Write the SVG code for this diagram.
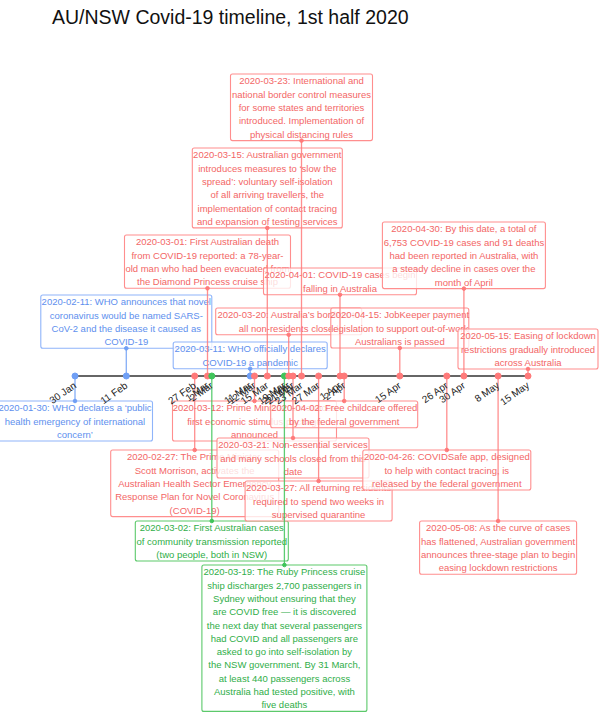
<svg xmlns="http://www.w3.org/2000/svg" width="602" height="724" viewBox="0 0 602 724">
<style>
text{font-family:"Liberation Sans",Arial,sans-serif}
.title{font-size:19.5px;fill:#111}
.box rect{fill:#fff;fill-opacity:0.78;stroke-width:1.1}
.box text{font-size:9.5px;text-anchor:middle}
.r rect{stroke:#ff8e8e}.r text{fill:#f36666}
.b rect{stroke:#8fb4fa}.b text{fill:#5e8fee}
.g rect{stroke:#5cc96b}.g text{fill:#2fae48}
.cr{stroke:#ff7a7a;fill:#ff7a7a}
.cb{stroke:#6f9ff5;fill:#6f9ff5}
.cg{stroke:#3fc45a;fill:#3fc45a}
#connectors line{stroke-width:1.3;stroke-opacity:0.85}
.tick{font-size:10px;fill:#222;text-anchor:end}
</style>
<rect width="602" height="724" fill="#fff"/>
<text class="title" x="52" y="24">AU/NSW Covid-19 timeline, 1st half 2020</text>

<g id="n0130" class="box b"><rect x="-2.5" y="401" width="155" height="40" rx="2"/>
<text x="75" y="411.3">2020-01-30: WHO declares a ‘public</text><text x="75" y="424.6">health emergency of international</text><text x="75" y="437.9">concern’</text></g>
<g id="n0211" class="box b"><rect x="40.8" y="295" width="171" height="53.3" rx="2"/>
<text x="126.3" y="305.3">2020-02-11: WHO announces that novel</text><text x="126.3" y="318.6">coronavirus would be named SARS-</text><text x="126.3" y="331.9">CoV-2 and the disease it caused as</text><text x="126.3" y="345.2">COVID-19</text></g>
<g id="n0227" class="box r"><rect x="110.7" y="450" width="168" height="66.6" rx="2"/>
<text x="194.7" y="460.3">2020-02-27: The Prime Minister,</text><text x="194.7" y="473.6">Scott Morrison, activates the</text><text x="194.7" y="486.9">Australian Health Sector Emergency</text><text x="194.7" y="500.2">Response Plan for Novel Coronavirus</text><text x="194.7" y="513.5">(COVID-19)</text></g>
<g id="n0301" class="box r"><rect x="124.5" y="235" width="166" height="53.3" rx="2"/>
<text x="207.5" y="245.3">2020-03-01: First Australian death</text><text x="207.5" y="258.6">from COVID-19 reported: a 78-year-</text><text x="207.5" y="271.9">old man who had been evacuated from</text><text x="207.5" y="285.2">the Diamond Princess cruise ship</text></g>
<g id="n0302" class="box g"><rect x="135.3" y="521" width="153" height="40" rx="2"/>
<text x="211.8" y="531.3">2020-03-02: First Australian cases</text><text x="211.8" y="544.6">of community transmission reported</text><text x="211.8" y="557.9">(two people, both in NSW)</text></g>
<g id="n0311" class="box b"><rect x="173.2" y="342" width="154" height="26.7" rx="2"/>
<text x="250.2" y="352.3">2020-03-11: WHO officially declares</text><text x="250.2" y="365.6">COVID-19 a pandemic</text></g>
<g id="n0312" class="box r"><rect x="172.5" y="401" width="164" height="40" rx="2"/>
<text x="254.5" y="411.3">2020-03-12: Prime Minister announces</text><text x="254.5" y="424.6">first economic stimulus package</text><text x="254.5" y="437.9">announced</text></g>
<g id="n0315" class="box r"><rect x="192.3" y="148" width="150" height="79.9" rx="2"/>
<text x="267.3" y="158.3">2020-03-15: Australian government</text><text x="267.3" y="171.6">introduces measures to ‘slow the</text><text x="267.3" y="184.9">spread’: voluntary self-isolation</text><text x="267.3" y="198.2">of all arriving travellers, the</text><text x="267.3" y="211.5">implementation of contact tracing</text><text x="267.3" y="224.8">and expansion of testing services</text></g>
<g id="n0319" class="box g"><rect x="201.9" y="565" width="165" height="146.4" rx="2"/>
<text x="284.4" y="575.3">2020-03-19: The Ruby Princess cruise</text><text x="284.4" y="588.6">ship discharges 2,700 passengers in</text><text x="284.4" y="601.9">Sydney without ensuring that they</text><text x="284.4" y="615.2">are COVID free — it is discovered</text><text x="284.4" y="628.5">the next day that several passengers</text><text x="284.4" y="641.8">had COVID and all passengers are</text><text x="284.4" y="655.1">asked to go into self-isolation by</text><text x="284.4" y="668.4">the NSW government. By 31 March,</text><text x="284.4" y="681.7">at least 440 passengers across</text><text x="284.4" y="695">Australia had tested positive, with</text><text x="284.4" y="708.3">five deaths</text></g>
<g id="n0320" class="box r"><rect x="215.7" y="308" width="146" height="26.7" rx="2"/>
<text x="288.7" y="318.3">2020-03-20: Australia’s borders to</text><text x="288.7" y="331.6">all non-residents closed</text></g>
<g id="n0321" class="box r"><rect x="217" y="438" width="152" height="40" rx="2"/>
<text x="293" y="448.3">2020-03-21: Non-essential services</text><text x="293" y="461.6">and many schools closed from this</text><text x="293" y="474.9">date</text></g>
<g id="n0323" class="box r"><rect x="230.5" y="74" width="142" height="66.6" rx="2"/>
<text x="301.5" y="84.3">2020-03-23: International and</text><text x="301.5" y="97.6">national border control measures</text><text x="301.5" y="110.9">for some states and territories</text><text x="301.5" y="124.2">introduced. Implementation of</text><text x="301.5" y="137.5">physical distancing rules</text></g>
<g id="n0327" class="box r"><rect x="245.1" y="481" width="147" height="40" rx="2"/>
<text x="318.6" y="491.3">2020-03-27: All returning residents</text><text x="318.6" y="504.6">required to spend two weeks in</text><text x="318.6" y="517.9">supervised quarantine</text></g>
<g id="n0401" class="box r"><rect x="263.5" y="268" width="153" height="26.7" rx="2"/>
<text x="340" y="278.3">2020-04-01: COVID-19 cases begin</text><text x="340" y="291.6">falling in Australia</text></g>
<g id="n0402" class="box r"><rect x="270.7" y="401" width="147" height="26.7" rx="2"/>
<text x="344.2" y="411.3">2020-04-02: Free childcare offered</text><text x="344.2" y="424.6">by the federal government</text></g>
<g id="n0415" class="box r"><rect x="330.8" y="308" width="138" height="40" rx="2"/>
<text x="399.8" y="318.3">2020-04-15: JobKeeper payment</text><text x="399.8" y="331.6">legislation to support out-of-work</text><text x="399.8" y="344.9">Australians is passed</text></g>
<g id="n0426" class="box r"><rect x="362.8" y="450" width="168" height="40" rx="2"/>
<text x="446.8" y="460.3">2020-04-26: COVIDSafe app, designed</text><text x="446.8" y="473.6">to help with contact tracing, is</text><text x="446.8" y="486.9">released by the federal government</text></g>
<g id="n0430" class="box r"><rect x="382.4" y="222" width="163" height="66.6" rx="2"/>
<text x="463.9" y="232.3">2020-04-30: By this date, a total of</text><text x="463.9" y="245.6">6,753 COVID-19 cases and 91 deaths</text><text x="463.9" y="258.9">had been reported in Australia, with</text><text x="463.9" y="272.2">a steady decline in cases over the</text><text x="463.9" y="285.5">month of April</text></g>
<g id="n0508" class="box r"><rect x="419.6" y="521" width="157" height="53.3" rx="2"/>
<text x="498.1" y="531.3">2020-05-08: As the curve of cases</text><text x="498.1" y="544.6">has flattened, Australian government</text><text x="498.1" y="557.9">announces three-stage plan to begin</text><text x="498.1" y="571.2">easing lockdown restrictions</text></g>
<g id="n0515" class="box r"><rect x="458" y="329" width="140" height="40" rx="2"/>
<text x="528" y="339.3">2020-05-15: Easing of lockdown</text><text x="528" y="352.6">restrictions gradually introduced</text><text x="528" y="365.9">across Australia</text></g>

<g id="connectors">
<line class="cb" x1="75" y1="376" x2="75" y2="401"/><circle class="cb" cx="75" cy="401" r="1.8"/>
<line class="cb" x1="126.3" y1="348.3" x2="126.3" y2="376"/><circle class="cb" cx="126.3" cy="348.3" r="1.8"/>
<line class="cr" x1="194.7" y1="376" x2="194.7" y2="450"/><circle class="cr" cx="194.7" cy="450" r="1.8"/>
<line class="cr" x1="207.5" y1="288.3" x2="207.5" y2="376"/><circle class="cr" cx="207.5" cy="288.3" r="1.8"/>
<line class="cg" x1="211.8" y1="376" x2="211.8" y2="521"/><circle class="cg" cx="211.8" cy="521" r="1.8"/>
<line class="cb" x1="250.2" y1="368.7" x2="250.2" y2="376"/><circle class="cb" cx="250.2" cy="368.7" r="1.8"/>
<line class="cr" x1="254.5" y1="376" x2="254.5" y2="401"/><circle class="cr" cx="254.5" cy="401" r="1.8"/>
<line class="cr" x1="267.3" y1="227.9" x2="267.3" y2="376"/><circle class="cr" cx="267.3" cy="227.9" r="1.8"/>
<line class="cg" x1="284.4" y1="376" x2="284.4" y2="565"/><circle class="cg" cx="284.4" cy="565" r="1.8"/>
<line class="cr" x1="288.7" y1="334.7" x2="288.7" y2="376"/><circle class="cr" cx="288.7" cy="334.7" r="1.8"/>
<line class="cr" x1="293" y1="376" x2="293" y2="438"/><circle class="cr" cx="293" cy="438" r="1.8"/>
<line class="cr" x1="301.5" y1="140.6" x2="301.5" y2="376"/><circle class="cr" cx="301.5" cy="140.6" r="1.8"/>
<line class="cr" x1="318.6" y1="376" x2="318.6" y2="481"/><circle class="cr" cx="318.6" cy="481" r="1.8"/>
<line class="cr" x1="340" y1="294.7" x2="340" y2="376"/><circle class="cr" cx="340" cy="294.7" r="1.8"/>
<line class="cr" x1="344.2" y1="376" x2="344.2" y2="401"/><circle class="cr" cx="344.2" cy="401" r="1.8"/>
<line class="cr" x1="399.8" y1="348" x2="399.8" y2="376"/><circle class="cr" cx="399.8" cy="348" r="1.8"/>
<line class="cr" x1="446.8" y1="376" x2="446.8" y2="450"/><circle class="cr" cx="446.8" cy="450" r="1.8"/>
<line class="cr" x1="463.9" y1="288.6" x2="463.9" y2="376"/><circle class="cr" cx="463.9" cy="288.6" r="1.8"/>
<line class="cr" x1="498.1" y1="376" x2="498.1" y2="521"/><circle class="cr" cx="498.1" cy="521" r="1.8"/>
<line class="cr" x1="528" y1="369" x2="528" y2="376"/><circle class="cr" cx="528" cy="369" r="1.8"/>
</g>

<g id="axis">
<line x1="75" y1="376" x2="528" y2="376" stroke="#333" stroke-width="1.5"/>
<circle class="cb" cx="75" cy="376" r="3"/><circle class="cb" cx="126.3" cy="376" r="3"/>
<circle class="cr" cx="194.7" cy="376" r="3"/><circle class="cr" cx="207.5" cy="376" r="3"/>
<circle class="cg" cx="211.8" cy="376" r="3"/><circle class="cb" cx="250.2" cy="376" r="3"/>
<circle class="cr" cx="254.5" cy="376" r="3"/><circle class="cr" cx="267.3" cy="376" r="3"/>
<circle class="cg" cx="284.4" cy="376" r="3"/><circle class="cr" cx="288.7" cy="376" r="3"/>
<circle class="cr" cx="293" cy="376" r="3"/><circle class="cr" cx="301.5" cy="376" r="3"/>
<circle class="cr" cx="318.6" cy="376" r="3"/><circle class="cr" cx="340" cy="376" r="3"/>
<circle class="cr" cx="344.2" cy="376" r="3"/><circle class="cr" cx="399.8" cy="376" r="3"/>
<circle class="cr" cx="446.8" cy="376" r="3"/><circle class="cr" cx="463.9" cy="376" r="3"/>
<circle class="cr" cx="498.1" cy="376" r="3"/><circle class="cr" cx="528" cy="376" r="3"/>
<text class="tick" transform="translate(77,387) rotate(-35)">30 Jan</text>
<text class="tick" transform="translate(128.3,387) rotate(-35)">11 Feb</text>
<text class="tick" transform="translate(196.7,387) rotate(-35)">27 Feb</text>
<text class="tick" transform="translate(209.5,387) rotate(-35)">1 Mar</text>
<text class="tick" transform="translate(213.8,387) rotate(-35)">2 Mar</text>
<text class="tick" transform="translate(252.2,387) rotate(-35)">11 Mar</text>
<text class="tick" transform="translate(256.5,387) rotate(-35)">12 Mar</text>
<text class="tick" transform="translate(269.3,387) rotate(-35)">15 Mar</text>
<text class="tick" transform="translate(286.4,387) rotate(-35)">19 Mar</text>
<text class="tick" transform="translate(290.7,387) rotate(-35)">20 Mar</text>
<text class="tick" transform="translate(295,387) rotate(-35)">21 Mar</text>
<text class="tick" transform="translate(303.5,387) rotate(-35)">23 Mar</text>
<text class="tick" transform="translate(320.6,387) rotate(-35)">27 Mar</text>
<text class="tick" transform="translate(342,387) rotate(-35)">1 Apr</text>
<text class="tick" transform="translate(346.2,387) rotate(-35)">2 Apr</text>
<text class="tick" transform="translate(401.8,387) rotate(-35)">15 Apr</text>
<text class="tick" transform="translate(448.8,387) rotate(-35)">26 Apr</text>
<text class="tick" transform="translate(465.9,387) rotate(-35)">30 Apr</text>
<text class="tick" transform="translate(500.1,387) rotate(-35)">8 May</text>
<text class="tick" transform="translate(530,387) rotate(-35)">15 May</text>
</g>
</svg>
